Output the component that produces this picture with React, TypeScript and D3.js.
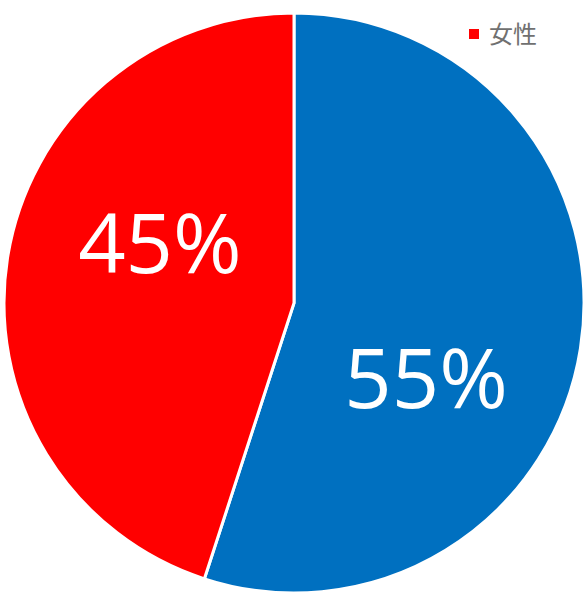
import React, { useEffect, useRef } from 'react';
import * as d3 from 'd3';

// Slice data
const categories = ['男性', '女性'];
const shares = [55, 45];
const colors = ['#0070C0', '#FF0000'];
const legendItems = ['女性'];

const W = 583;
const H = 592;

const App: React.FC = () => {
  const svgRef = useRef<SVGSVGElement>(null);

  useEffect(() => {
    if (!svgRef.current) return;
    const svg = d3.select(svgRef.current);
    svg.selectAll('*').remove();

    const cx = 294;
    const cy = 303;
    const radius = 290;

    const g = svg.append('g').attr('transform', `translate(${cx},${cy})`);

    const pie = d3
      .pie<number>()
      .value(d => d)
      .sort(null);

    const arcs = pie(shares);

    const arc = d3
      .arc<d3.PieArcDatum<number>>()
      .innerRadius(0)
      .outerRadius(radius);

    g.selectAll('path')
      .data(arcs)
      .enter()
      .append('path')
      .attr('d', arc)
      .attr('fill', (d, i) => colors[i])
      .attr('stroke', '#fff')
      .attr('stroke-width', 3)
      .attr('stroke-linejoin', 'miter');

    // Excel's "best fit" labels sit a bit clockwise of the slice middle
    const angleShift = [0.36, 0.265];
    const labelR = [152, 147];
    g.selectAll('text.pct')
      .data(arcs)
      .enter()
      .append('text')
      .attr('class', 'pct')
      .attr('x', (d, i) => Math.sin((d.startAngle + d.endAngle) / 2 + angleShift[i]) * labelR[i])
      .attr('y', (d, i) => -Math.cos((d.startAngle + d.endAngle) / 2 + angleShift[i]) * labelR[i])
      .attr('dy', '0.36em')
      .attr('text-anchor', 'middle')
      .style('font-family', '"Open Sans", "Noto Sans", sans-serif')
      .style('font-size', '83px')
      .style('fill', '#fff')
      .text(d => `${d.data}%`);

    // Legend (only the visible entry)
    const legend = svg.append('g').attr('transform', 'translate(469,29)');
    legendItems.forEach((name, i) => {
      const idx = categories.indexOf(name);
      const row = legend.append('g').attr('transform', `translate(0,${i * 28})`);
      row.append('rect')
        .attr('width', 10)
        .attr('height', 10)
        .attr('fill', colors[idx]);
      row.append('text')
        .attr('x', 20)
        .attr('y', 5)
        .attr('dy', '0.36em')
        .style('font-family', '"Noto Sans CJK JP", "Noto Sans CJK SC", sans-serif')
        .style('font-size', '24px')
        .style('fill', '#707070')
        .text(name);
    });
  }, []);

  return (
    <div style={{ position: 'absolute', left: 0, top: 0, width: W, height: H, background: '#fff' }}>
      <svg ref={svgRef} width={W} height={H} style={{ display: 'block' }}></svg>
    </div>
  );
};

export default App;
